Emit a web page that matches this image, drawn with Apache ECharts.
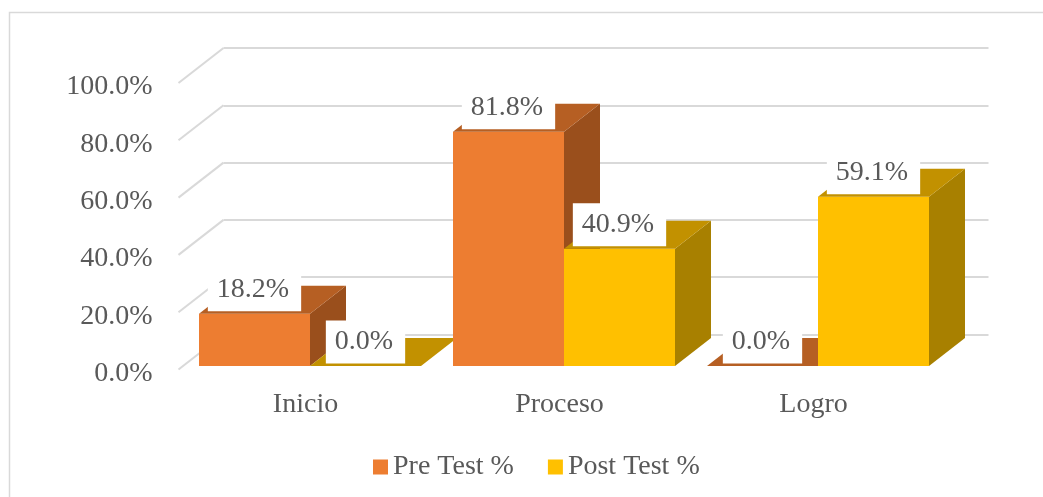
<!DOCTYPE html>
<html>
<head>
<meta charset="utf-8">
<script src="https://cdn.jsdelivr.net/npm/echarts@6/dist/echarts.min.js"></script>
<style>
html,body{margin:0;padding:0;background:#fff;}
#chart{width:1043px;height:497px;}
</style>
</head>
<body>
<div id="chart"></div>
<script>
const categories = ['Inicio', 'Proceso', 'Logro'];
const preTest = [18.2, 81.8, 0.0];
const postTest = [0.0, 40.9, 59.1];
const seriesNames = ['Pre Test %', 'Post Test %'];
const yTicks = [0, 20, 40, 60, 80, 100];

const FONT = '"Liberation Serif", "Times New Roman", serif';
const TEXT = '#595959';
const GRID_LINE = '#D9D9D9';
const DX = 36, DY = -28;      // bar depth
const WDX = 45, WDY = -35;    // wall depth
const BAR_RATIO = 0.437;

const palettes = [
  { front: '#ED7D31', top: '#B65F23', side: '#9A4F1C' },
  { front: '#FFC000', top: '#C29100', side: '#A88000' }
];

function barRenderer(sIdx) {
  const pal = palettes[sIdx];
  return function (params, api) {
    const cat = api.value(0), val = api.value(1);
    const base = api.coord([cat, 0]);
    const top = api.coord([cat, val]);
    const band = api.size([1, 0])[0];
    const bw = band * BAR_RATIO;
    const x0 = sIdx === 0 ? base[0] - bw : base[0];
    const x1 = x0 + bw;
    const by = base[1], ty = top[1];
    const children = [];
    children.push({
      type: 'polygon', z2: cat * 10 + sIdx * 3 + 1,
      shape: { points: [[x1, ty], [x1, by], [x1 + DX, by + DY], [x1 + DX, ty + DY]] },
      style: { fill: pal.side }
    });
    children.push({
      type: 'rect', z2: cat * 10 + sIdx * 3 + 2,
      shape: { x: x0, y: ty, width: bw, height: by - ty },
      style: { fill: pal.front }
    });
    children.push({
      type: 'polygon', z2: cat * 10 + sIdx * 3 + 2,
      shape: { points: [[x0, ty], [x1, ty], [x1 + DX, ty + DY], [x0 + DX, ty + DY]] },
      style: { fill: pal.top }
    });
    children.push({
      type: 'text', z2: 200,
      style: {
        text: val.toFixed(1) + '%',
        x: x0 + bw / 2, y: ty + DY + 4,
        align: 'center', verticalAlign: 'middle',
        fill: TEXT, font: '28px ' + FONT,
        backgroundColor: '#fff', padding: [12, 12, 3, 9]
      }
    });
    return { type: 'group', children: children };
  };
}

function wallRenderer(params, api) {
  const v = api.value(1);
  const y = api.coord([0, v])[1];
  const x = params.coordSys.x;
  return {
    type: 'line',
    shape: { x1: x, y1: y, x2: x + WDX, y2: y + WDY },
    style: { stroke: GRID_LINE, lineWidth: 2 }
  };
}

const chart = echarts.init(document.getElementById('chart'), null, { renderer: 'canvas' });
chart.setOption({
  animation: false,
  backgroundColor: '#fff',
  textStyle: { fontFamily: FONT },
  graphic: [{
    type: 'rect', z: -10,
    shape: { x: 9.5, y: 12.5, width: 1200, height: 700 },
    style: { fill: 'none', stroke: GRID_LINE, lineWidth: 1.5 }
  }],
  legend: {
    data: seriesNames,
    left: 368, top: 448,
    icon: 'rect', itemWidth: 15, itemHeight: 15, itemGap: 34,
    textStyle: { fontSize: 28, color: TEXT, fontFamily: FONT }
  },
  grid: [
    { left: 183, top: 79.5, width: 762, height: 286.5 },   // bar front plane
    { left: 178.5, top: 83, width: 762, height: 286.5 },   // wall front plane
    { left: 223.5, top: 48, width: 765, height: 286.5 },   // back wall
    { left: 178.5, top: 87, width: 762, height: 286.5 }    // value labels
  ],
  xAxis: [
    { gridIndex: 0, type: 'category', data: categories, show: false },
    { gridIndex: 1, type: 'category', data: categories,
      axisLine: { show: false }, axisTick: { show: false },
      axisLabel: { margin: 21, fontSize: 28, color: TEXT, fontFamily: FONT } },
    { gridIndex: 2, type: 'category', data: categories, show: false },
    { gridIndex: 3, type: 'category', data: categories, show: false }
  ],
  yAxis: [
    { gridIndex: 0, type: 'value', min: 0, max: 100, interval: 20, show: false },
    { gridIndex: 1, type: 'value', min: 0, max: 100, interval: 20, show: false },
    { gridIndex: 2, type: 'value', min: 0, max: 100, interval: 20,
      axisLine: { show: false }, axisTick: { show: false }, axisLabel: { show: false },
      splitLine: { show: true, lineStyle: { color: GRID_LINE, width: 2 } } },
    { gridIndex: 3, type: 'value', min: 0, max: 100, interval: 20,
      axisLine: { show: false }, axisTick: { show: false }, splitLine: { show: false },
      axisLabel: { margin: 26, fontSize: 28, color: TEXT, fontFamily: FONT,
        formatter: v => v.toFixed(1) + '%' } }
  ],
  series: [
    {
      type: 'custom', name: 'wall', xAxisIndex: 1, yAxisIndex: 1, z: 1,
      data: yTicks.map(v => [0, v]), encode: { x: 0, y: 1 },
      renderItem: wallRenderer, silent: true
    },
    {
      type: 'custom', name: seriesNames[0], xAxisIndex: 0, yAxisIndex: 0,
      itemStyle: { color: palettes[0].front },
      data: preTest.map((v, i) => [i, v]), encode: { x: 0, y: 1 },
      renderItem: barRenderer(0)
    },
    {
      type: 'custom', name: seriesNames[1], xAxisIndex: 0, yAxisIndex: 0,
      itemStyle: { color: palettes[1].front },
      data: postTest.map((v, i) => [i, v]), encode: { x: 0, y: 1 },
      renderItem: barRenderer(1)
    }
  ]
});
</script>
</body>
</html>
